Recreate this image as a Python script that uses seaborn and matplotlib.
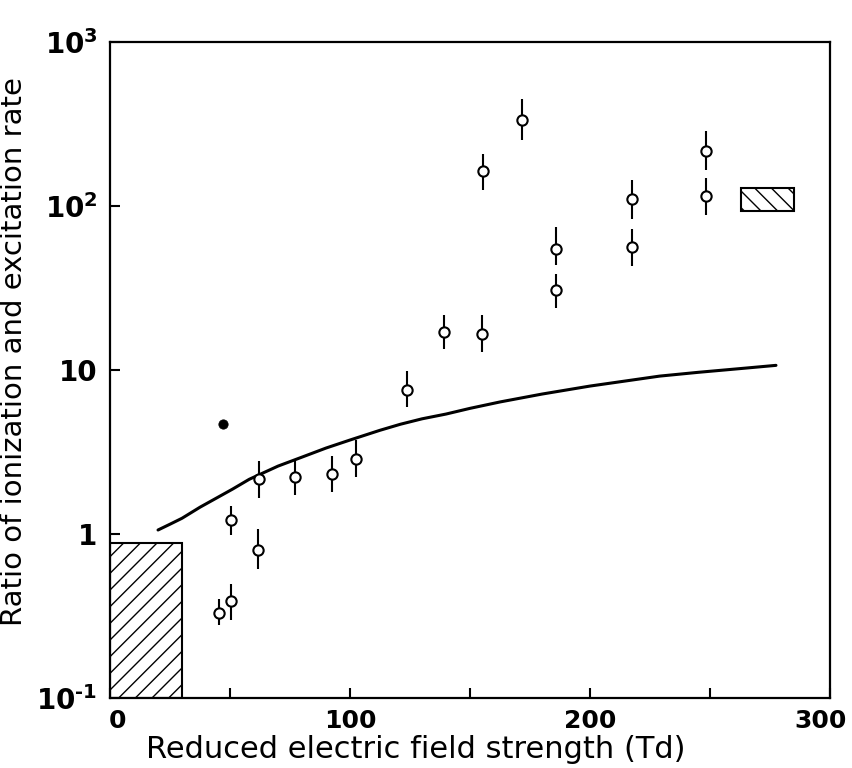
import numpy as np
import pandas as pd
import matplotlib
matplotlib.use("Agg")
import matplotlib.pyplot as plt
import matplotlib.transforms as mtransforms
import seaborn as sns
from matplotlib.patches import Rectangle

# ---- data ----
E_open = [45.4, 50.4, 50.4, 61.7, 62.0, 77.0, 92.6, 102.6, 123.7, 139.0,
          155.0, 155.3, 171.6, 186.0, 186.0, 217.4, 217.4, 248.3, 248.3]
R_open = [0.33, 0.39, 1.22, 0.80, 2.16, 2.23, 2.32, 2.87, 7.55, 17.1,
          16.6, 163, 334, 30.7, 54.7, 56, 110, 115, 216]
R_low = [0.28, 0.30, 0.99, 0.61, 1.66, 1.73, 1.80, 2.23, 5.95, 13.4,
         12.9, 125, 253, 23.9, 43.7, 43.2, 83.5, 88, 166]
R_high = [0.40, 0.50, 1.48, 1.07, 2.79, 2.86, 2.99, 3.74, 9.9, 21.7,
          21.7, 208, 452, 38.5, 74.5, 72.3, 144, 148, 287]

E_filled = [47.1]
R_filled = [4.68]

E_curve = [20, 25, 30, 37.5, 45, 51, 58, 70, 80, 90, 100, 112.5, 121, 130,
           140, 150, 162.5, 180, 200, 215, 229, 245, 265, 277.5]
R_curve = [1.06, 1.15, 1.25, 1.46, 1.68, 1.88, 2.16, 2.6, 2.95, 3.35, 3.75,
           4.3, 4.68, 5.05, 5.4, 5.85, 6.4, 7.15, 8.0, 8.6, 9.2, 9.7, 10.3, 10.7]

# hatched boxes: (x0, x1, y0, y1)
box_low = (0, 30, 0.1, 0.88)
box_high = (263, 285, 93, 129)

x_ticks = [0, 50, 100, 150, 200, 250, 300]
x_tick_labels = ["0", "", "100", "", "200", "", "300"]
y_ticks = [0.1, 1, 10, 100, 1000]
y_tick_labels = ["$10^{\u20101}$", "1", "10", r"$10^{2}$", r"$10^{3}$"]

# ---- style ----
sns.set_style("ticks")
plt.rcParams["font.family"] = ["DejaVu Sans"]
plt.rcParams["mathtext.default"] = "regular"
plt.rcParams["hatch.linewidth"] = 1.0
plt.rcParams["text.color"] = "black"
plt.rcParams["axes.labelcolor"] = "black"
plt.rcParams["xtick.color"] = "black"
plt.rcParams["ytick.color"] = "black"

fig = plt.figure(figsize=(8.53, 7.68), dpi=100)
ax = fig.add_axes([0.129, 0.091, 0.844, 0.854])

df_open = pd.DataFrame({"E": E_open, "R": R_open, "lo": R_low, "hi": R_high})
df_curve = pd.DataFrame({"E": E_curve, "R": R_curve})
df_fill = pd.DataFrame({"E": E_filled, "R": R_filled})

sns.lineplot(data=df_curve, x="E", y="R", ax=ax, color="black", lw=2.2, zorder=2)

ax.vlines(df_open["E"], df_open["lo"], df_open["hi"], color="black", lw=1.5, zorder=3)
sns.scatterplot(data=df_open, x="E", y="R", ax=ax, s=55, marker="o",
                facecolor="white", edgecolor="black", linewidth=1.5, zorder=4)
sns.scatterplot(data=df_fill, x="E", y="R", ax=ax, s=45, marker="o",
                color="black", edgecolor="black", zorder=4)

for (x0, x1, y0, y1), h in [(box_low, "//"), (box_high, "\\\\")]:
    ax.add_patch(Rectangle((x0, y0), x1 - x0, y1 - y0, fill=False,
                           hatch=h, edgecolor="black", lw=1.5, zorder=3))

ax.set_yscale("log")
ax.set_xlim(0, 300)
ax.set_ylim(0.1, 1000)
ax.set_xticks(x_ticks)
ax.set_xticklabels(x_tick_labels, fontsize=18, fontweight="bold")
ax.set_yticks(y_ticks)
ax.set_yticklabels(y_tick_labels, fontsize=20, fontweight="bold")
ax.minorticks_off()
ax.tick_params(direction="in", length=7, width=1.5)
ax.tick_params(axis="x", pad=8)
ax.tick_params(axis="y", pad=9)
for s in ax.spines.values():
    s.set_linewidth(1.6)
    s.set_color("black")

# nudge the end labels like the reference
xl = ax.get_xticklabels()
xl[0].set_transform(xl[0].get_transform() +
                    mtransforms.ScaledTranslation(0.07, 0, fig.dpi_scale_trans))
xl[-1].set_transform(xl[-1].get_transform() +
                     mtransforms.ScaledTranslation(-0.09, 0, fig.dpi_scale_trans))

ax.set_xlabel("Reduced electric field strength (Td)", fontsize=22)
ax.set_ylabel("Ratio of ionization and excitation rate", fontsize=21)
ax.xaxis.set_label_coords(0.424, -0.057)
ax.yaxis.set_label_coords(-0.114, 0.528)

fig.savefig("out.png", dpi=100)
